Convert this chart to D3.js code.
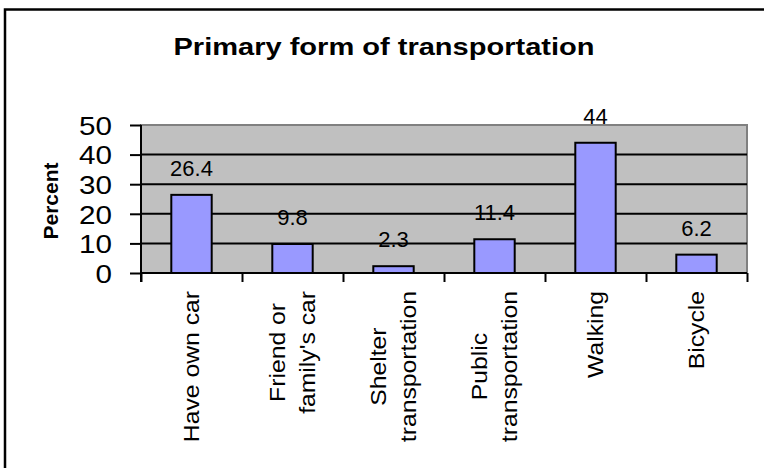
<!DOCTYPE html>
<html lang="en">
<head>
    <meta charset="utf-8">
    <title>Primary form of transportation</title>
    <script src="https://cdn.jsdelivr.net/npm/d3@7"></script>
    <style>
      body { margin: 0; background: #fff; }
      text { font-family: "Liberation Sans", Arial, sans-serif; fill: #000; }
      .grid line { stroke: #000; stroke-width: 2px; }
      .bars rect { fill: #9999ff; stroke: #000; stroke-width: 2px; }
    </style>
</head>
<body>
    <svg width="764" height="468"></svg>

<script>
// data
var categories = ["Have own car", "Friend or\nfamily's car", "Shelter\ntransportation",
                  "Public\ntransportation", "Walking", "Bicycle"];
var percents = [26.4, 9.8, 2.3, 11.4, 44, 6.2];
var yTicks = [0, 10, 20, 30, 40, 50];

var svg = d3.select("svg");

var plot = {left: 141, right: 747, top: 125, bottom: 273};

var x = d3.scaleBand()
    .domain(d3.range(categories.length))
    .range([plot.left, plot.right]);

// category boundaries, for the tick marks between bars
var xEdge = d3.scaleLinear()
    .domain([0, categories.length])
    .range([plot.left, plot.right]);

var y = d3.scaleLinear()
    .domain([0, 50])
    .range([plot.bottom, plot.top]);

// outer frame, runs off the right and bottom of the picture
svg.append("rect")
    .attr("x", 5).attr("y", 9.5)
    .attr("width", 820).attr("height", 520)
    .attr("fill", "none")
    .attr("stroke", "#000")
    .attr("stroke-width", 2.5);

svg.append("text")
    .attr("x", 384).attr("y", 55)
    .attr("text-anchor", "middle")
    .style("font-size", "24px")
    .style("font-weight", "bold")
    .attr("textLength", 421)
    .attr("lengthAdjust", "spacingAndGlyphs")
    .text("Primary form of transportation");

// plot area
svg.append("rect")
    .attr("x", plot.left).attr("y", plot.top)
    .attr("width", plot.right - plot.left)
    .attr("height", plot.bottom - plot.top)
    .attr("fill", "#c0c0c0")
    .attr("stroke", "#808080")
    .attr("stroke-width", 2);

svg.append("g")
    .attr("class", "grid")
    .selectAll("line")
    .data(yTicks.filter(function(d) { return d > 0 && d < 50; }))
    .enter().append("line")
    .attr("x1", plot.left).attr("x2", plot.right)
    .attr("y1", function(d) { return y(d); })
    .attr("y2", function(d) { return y(d); });

svg.append("g")
    .attr("class", "bars")
    .selectAll("rect")
    .data(percents)
    .enter().append("rect")
    .attr("x", function(d, i) { return x(i) + x.bandwidth() * 0.3; })
    .attr("width", x.bandwidth() * 0.4)
    .attr("y", function(d) { return y(d); })
    .attr("height", function(d) { return y(0) - y(d); });

svg.append("g")
    .selectAll("text")
    .data(percents)
    .enter().append("text")
    .attr("x", function(d, i) { return x(i) + x.bandwidth() / 2; })
    .attr("y", function(d) { return y(d) - 19; })
    .attr("text-anchor", "middle")
    .style("font-size", "22px")
    .text(function(d) { return d; });

// y axis
var yAxis = svg.append("g")
    .attr("transform", "translate(" + plot.left + ",0)")
    .call(d3.axisLeft(y).tickValues(yTicks).tickSize(11).tickPadding(18));
yAxis.select(".domain").attr("stroke", "#000").attr("stroke-width", 2)
    .attr("d", "M0," + plot.top + "V" + (plot.bottom + 9));
yAxis.selectAll(".tick line").attr("stroke", "#000").attr("stroke-width", 2);
yAxis.selectAll(".tick text")
    .attr("dy", "0.36em")
    .style("font-size", "26px")
    .style("font-family", "'Liberation Sans', Arial, sans-serif")
    .each(function() {
      var w = this.getComputedTextLength();
      d3.select(this).attr("textLength", w * 1.14).attr("lengthAdjust", "spacingAndGlyphs");
    });

// x axis, ticks between categories
var xAxis = svg.append("g")
    .attr("transform", "translate(0," + plot.bottom + ")")
    .call(d3.axisBottom(xEdge).tickValues(d3.range(categories.length + 1))
      .tickSize(9).tickFormat(""));
xAxis.select(".domain").attr("stroke", "#000").attr("stroke-width", 2)
    .attr("d", "M" + plot.left + ",0H" + plot.right);
xAxis.selectAll(".tick line").attr("stroke", "#000").attr("stroke-width", 2);

// rotated category labels, top of the block sits just under the axis
var labelTop = 291, linePitch = 30;
categories.forEach(function(name, i) {
  var lines = name.split("\n");
  var g = svg.append("g")
      .attr("transform", "translate(" + (x(i) + x.bandwidth() / 2) + "," + labelTop + ") rotate(-90)");
  var t = g.selectAll("text")
      .data(lines)
      .enter().append("text")
      .attr("y", function(d, j) { return (j - (lines.length - 1) / 2) * linePitch; })
      .attr("dy", "0.36em")
      .attr("text-anchor", "middle")
      .style("font-size", "21.5px");
  t.text(function(d) { return d; })
   .each(function() {
      var w = this.getComputedTextLength();
      d3.select(this).attr("textLength", w * 1.15).attr("lengthAdjust", "spacingAndGlyphs");
   });
  var longest = d3.max(t.nodes(), function(n) { return +n.getAttribute("textLength"); });
  t.attr("x", -longest / 2);
});

svg.append("text")
    .attr("transform", "translate(50,201) rotate(-90)")
    .attr("text-anchor", "middle")
    .attr("dy", "0.36em")
    .style("font-size", "21px")
    .style("font-weight", "bold")
    .text("Percent");
</script>
</body>
</html>
